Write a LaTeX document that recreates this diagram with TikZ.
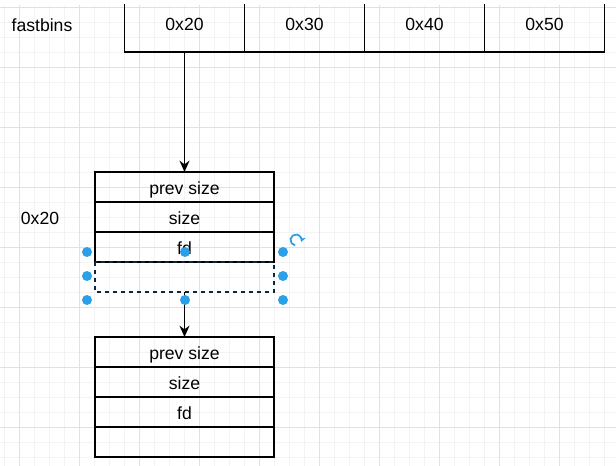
\documentclass[tikz,border=0pt]{standalone}
\usepackage{fontspec}
\setmainfont{Liberation Sans}
\usetikzlibrary{arrows.meta,positioning}
\definecolor{selblue}{RGB}{41,160,232}
\definecolor{gridminor}{RGB}{243,243,243}
\definecolor{gridmajor}{RGB}{225,225,225}
\tikzset{bin cell/.style={rectangle,draw,line width=1.1pt,minimum width=90pt,minimum height=45pt,inner sep=0pt,outer sep=0pt,text height=16pt,text depth=3pt,font=\fontsize{13.2}{15}\selectfont},
         chunk row/.style={rectangle,draw,line width=1.1pt,minimum width=134.25pt,minimum height=22.5pt,inner sep=0pt,outer sep=0pt,text height=14pt,text depth=3pt,font=\fontsize{13.2}{15}\selectfont},
         plain label/.style={rectangle,draw=none,fill=none,text height=14pt,text depth=3pt,font=\fontsize{13.2}{15}\selectfont},
         link/.style={->,line width=1.3pt},
         sel box/.style={draw=black!75!selblue,dashed,line width=0.9pt},
         handle/.style={circle,fill=selblue,minimum size=7.5pt,inner sep=0pt},
}

\begin{document}
\begin{tikzpicture}[x=0.75pt,y=-0.75pt,>={Stealth[length=8.5pt,width=7.5pt]}]
\useasboundingbox (0,0) rectangle (616,466);
\begin{scope}
\clip (0,5) rectangle (616,466);
% background grid
\foreach \x in {4,19,...,604} \draw[gridminor] (\x,5) -- (\x,466);
\foreach \y in {7,22,...,457} \draw[gridminor] (0,\y) -- (616,\y);
\foreach \x in {19,79,...,559} \draw[gridmajor] (\x,5) -- (\x,466);
\foreach \y in {7,67,...,427} \draw[gridmajor] (0,\y) -- (616,\y);
% fastbins array
\node[plain label] (fb) at (42,24) {fastbins};
\node[bin cell] (b20) at (184.5,22) {0x20};
\node[bin cell,right=0pt of b20] (b30) {0x30};
\node[bin cell,right=0pt of b30] (b40) {0x40};
\node[bin cell,right=0pt of b40] (b50) {0x50};
\end{scope}
% first chunk
\node[plain label] (sz) at (40,217) {0x20};
\node[chunk row] (c1prev) at (184.5,187) {prev size};
\node[chunk row,below=0pt of c1prev] (c1size) {size};
\node[chunk row,below=0pt of c1size] (c1fd) {fd};
\node[chunk row,below=0pt of c1fd,draw=none] (c1pad) {};
\draw[sel box] (c1pad.north west) rectangle (c1pad.south east);
% second chunk
\node[chunk row] (c2prev) at (184.5,352) {prev size};
\node[chunk row,below=0pt of c2prev] (c2size) {size};
\node[chunk row,below=0pt of c2size] (c2fd) {fd};
\node[chunk row,below=0pt of c2fd] (c2pad) {};
% links
\draw[link] (b20) -- (c1prev);
\draw[link] (c1pad) -- (c2prev);
% selection handles
\foreach \x/\y [count=\i] in {87/252,185/252,283/252,87/276,283/276,87/300,185/300,283/300}
    \node[handle] (h\i) at (\x,\y) {};
\draw[selblue,line width=1.3pt,-{Stealth[length=4pt,width=4.5pt]}] (296,240) ++(100:5.5) arc (100:380:5.5);
\end{tikzpicture}
\end{document}
